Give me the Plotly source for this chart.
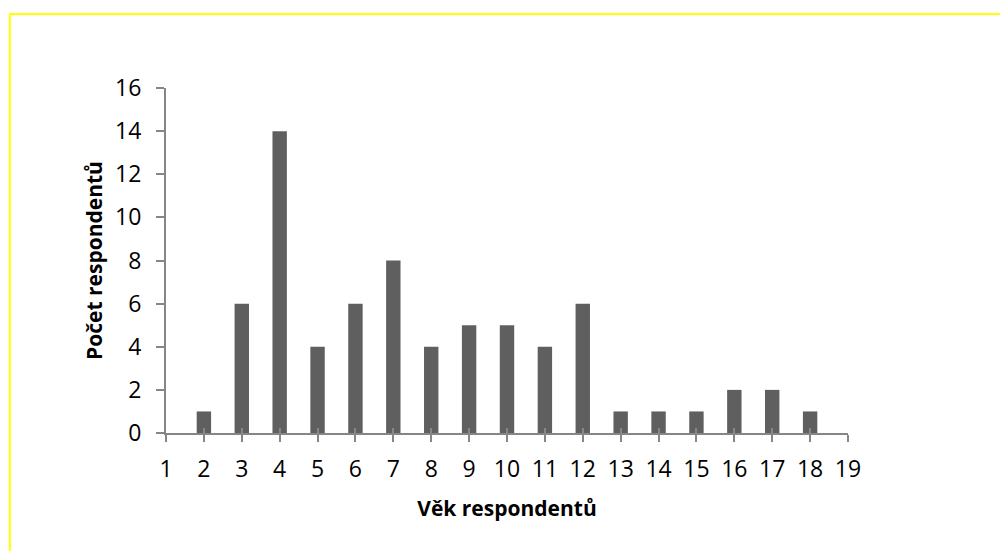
import plotly.graph_objects as go

# Respondent counts per age category
ages = [2, 3, 4, 5, 6, 7, 8, 9, 10, 11, 12, 13, 14, 15, 16, 17, 18]
counts = [1, 6, 14, 4, 6, 8, 4, 5, 5, 4, 6, 1, 1, 1, 2, 2, 1]

x_ticks = list(range(1, 20))
y_ticks = list(range(0, 17, 2))

FONT = "Open Sans, sans-serif"
AXIS_GREY = "#868686"
TICK_FONT = dict(family=FONT, size=23, color="black")
TITLE_FONT = dict(family=FONT, size=21, color="black")

fig = go.Figure()
fig.add_trace(go.Bar(
    x=ages, y=counts, width=0.38,
    marker=dict(color="#5f5f5f", line=dict(width=0)),
    showlegend=False, hoverinfo="x+y",
))

fig.update_layout(
    width=1000, height=551,
    margin=dict(l=166, r=152, t=88, b=118),
    paper_bgcolor="white", plot_bgcolor="white",
    font=dict(family=FONT, size=23, color="black"),
    xaxis=dict(
        range=[1, 19], tickmode="array", tickvals=x_ticks,
        ticktext=[str(v) for v in x_ticks], tickfont=TICK_FONT,
        showline=True, linecolor=AXIS_GREY, linewidth=2,
        ticks="outside", ticklen=7, tickcolor=AXIS_GREY, tickwidth=2,
        ticklabelstandoff=7,
        showgrid=False, zeroline=False,
        title=dict(text="<b>Věk respondentů</b>", standoff=19,
                   font=TITLE_FONT),
    ),
    # mirror of the x axis that draws the upper half of the crossing ticks
    xaxis2=dict(
        range=[1, 19], overlaying="x", tickmode="array", tickvals=x_ticks,
        ticks="inside", ticklen=5, tickcolor=AXIS_GREY, tickwidth=2,
        showticklabels=False, showline=False, showgrid=False, zeroline=False,
        anchor="y", side="bottom",
    ),
    yaxis=dict(
        range=[0, 16], tickmode="array", tickvals=y_ticks, tickfont=TICK_FONT,
        showline=True, linecolor=AXIS_GREY, linewidth=2,
        ticks="outside", ticklen=8, tickcolor=AXIS_GREY, tickwidth=2,
        ticklabelstandoff=10,
        showgrid=False, zeroline=False,
        title=dict(text="<b>Počet respondentů</b>", standoff=7,
                   font=TITLE_FONT),
    ),
    shapes=[dict(
        type="rect", xref="paper", yref="paper",
        x0=-0.229, x1=1.25, y0=-0.5, y1=1.2145,
        line=dict(color="#ffff00", width=2), fillcolor="rgba(0,0,0,0)",
        layer="below",
    )],
)

# invisible trace so the mirror axis is rendered
fig.add_trace(go.Scatter(x=[1], y=[0], xaxis="x2", mode="markers",
                         marker=dict(opacity=0), showlegend=False,
                         hoverinfo="skip"))

fig.write_html("out.html")
